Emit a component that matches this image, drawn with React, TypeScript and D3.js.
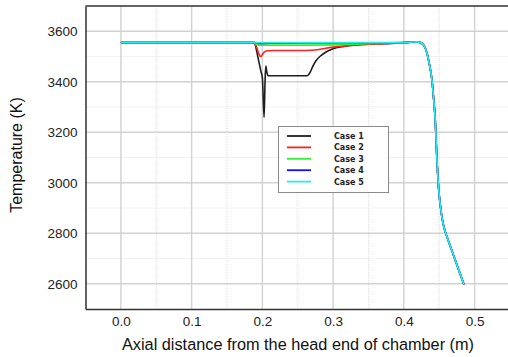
import React from "react";
import * as d3 from "d3";

// axis ticks
const xTicks = [0.0, 0.1, 0.2, 0.3, 0.4, 0.5];
const yTicks = [2600, 2800, 3000, 3200, 3400, 3600];
const xMinor = [-0.05, 0.05, 0.15, 0.25, 0.35, 0.45, 0.55];
const yMinor = [2700, 2900, 3100, 3300, 3500, 3700];

const caseNames = ["Case 1", "Case 2", "Case 3", "Case 4", "Case 5"];
const caseColors = ["#1e1e1e", "#ff2020", "#33ee33", "#1010ff", "#22eeee"];

// shared drop near the nozzle end (all cases collapse on it)
const tailX = [0.41, 0.418, 0.423, 0.428, 0.4325, 0.4355, 0.438, 0.44, 0.442, 0.444, 0.4472, 0.4496, 0.452, 0.4543, 0.4575, 0.4613, 0.47, 0.478, 0.4849];
const tailT = [3557, 3558, 3556, 3545, 3515, 3477, 3440, 3398, 3335, 3265, 3067, 2961, 2900, 2855, 2815, 2783, 2714, 2651, 2597];

// head part per case
const case1X = [0, 0.189, 0.192, 0.195, 0.198, 0.2, 0.2024, 0.2038, 0.2048, 0.2062, 0.208, 0.23, 0.263, 0.268, 0.2706, 0.276, 0.2825, 0.29, 0.299, 0.315, 0.3366, 0.36, 0.383, 0.4];
const case1T = [3555, 3555, 3520, 3480, 3440, 3415, 3259, 3400, 3462, 3440, 3424, 3424, 3424, 3440, 3457, 3484, 3503, 3518, 3530, 3540, 3547, 3550, 3552, 3555];
const case2X = [0, 0.188, 0.192, 0.1955, 0.1977, 0.201, 0.2048, 0.215, 0.25, 0.27, 0.28, 0.29, 0.3, 0.32, 0.34, 0.37, 0.4];
const case2T = [3555, 3555, 3535, 3507, 3499, 3512, 3522, 3524, 3524, 3525, 3528, 3533, 3537, 3543, 3547, 3551, 3555];
const case3X = [0, 0.188, 0.193, 0.198, 0.25, 0.3, 0.34, 0.38, 0.4];
const case3T = [3555, 3555, 3546, 3545, 3545, 3546, 3550, 3554, 3555];
const case4X = [0, 0.19, 0.195, 0.2, 0.22, 0.3, 0.4];
const case4T = [3555, 3555, 3552, 3552, 3553, 3554, 3555];
const case5X = [0, 0.4];
const case5T = [3555, 3555];

const headsX = [case1X, case2X, case3X, case4X, case5X];
const headsT = [case1T, case2T, case3T, case4T, case5T];

export default function App() {
    const ref = React.useRef<SVGSVGElement>(null);

    React.useEffect(() => {
        drawChart();
    }, []);

    function drawChart() {
        const svg = d3.select(ref.current);
        svg.selectAll("*").remove();

        const font = "'Liberation Sans', Arial, sans-serif";
        const x = d3.scaleLinear().domain([-0.05, 0.55]).range([85.5, 510]);
        const y = d3.scaleLinear().domain([2500, 3700]).range([309, 6]);

        const grid = svg.append("g");
        grid.selectAll("line.xmin")
            .data(xMinor)
            .enter()
            .append("line")
            .attr("x1", (d) => x(d))
            .attr("x2", (d) => x(d))
            .attr("y1", y(3700))
            .attr("y2", y(2500))
            .attr("stroke", "#e2e2e2")
            .attr("stroke-dasharray", "1,1");
        grid.selectAll("line.ymin")
            .data(yMinor)
            .enter()
            .append("line")
            .attr("x1", x(-0.05))
            .attr("x2", x(0.55))
            .attr("y1", (d) => y(d))
            .attr("y2", (d) => y(d))
            .attr("stroke", "#e2e2e2")
            .attr("stroke-dasharray", "1,1");
        grid.selectAll("line.xmaj")
            .data(xTicks)
            .enter()
            .append("line")
            .attr("x1", (d) => x(d))
            .attr("x2", (d) => x(d))
            .attr("y1", y(3700))
            .attr("y2", y(2500))
            .attr("stroke", "#d2d2d2")
            .attr("stroke-width", 1.4);
        grid.selectAll("line.ymaj")
            .data(yTicks)
            .enter()
            .append("line")
            .attr("x1", x(-0.05))
            .attr("x2", x(0.55))
            .attr("y1", (d) => y(d))
            .attr("y2", (d) => y(d))
            .attr("stroke", "#d2d2d2")
            .attr("stroke-width", 1.4);

        // axes
        const yAxis = d3.axisLeft(y).tickValues(yTicks).tickSize(0).tickPadding(8).tickFormat(d3.format("d"));
        const xAxis = d3.axisBottom(x).tickValues(xTicks).tickSize(0).tickPadding(7).tickFormat(d3.format(".1f"));
        const ya = svg.append("g").attr("transform", `translate(${x(-0.05)},0)`).call(yAxis);
        const xa = svg.append("g").attr("transform", `translate(0,${y(2500)})`).call(xAxis);
        [ya, xa].forEach((g) => {
            g.select(".domain").attr("stroke", "#333").attr("stroke-width", 1.5);
            g.selectAll("text").attr("font-family", font).attr("font-size", 13.5).attr("fill", "#222");
        });
        svg.append("line")
            .attr("x1", x(-0.05))
            .attr("x2", x(0.55))
            .attr("y1", y(3700))
            .attr("y2", y(3700))
            .attr("stroke", "#333")
            .attr("stroke-width", 1.5);

        // series
        const line = d3
            .line<[number, number]>()
            .x((d) => x(d[0]))
            .y((d) => y(d[1]))
            .curve(d3.curveMonotoneX);
        headsX.forEach((hx, i) => {
            const pts: [number, number][] = hx
                .map((v, j) => [v, headsT[i][j]] as [number, number])
                .concat(tailX.map((v, j) => [v, tailT[j]] as [number, number]));
            svg.append("path")
                .attr("d", line(pts))
                .attr("fill", "none")
                .attr("stroke", caseColors[i])
                .attr("stroke-width", 1.6);
        });

        // legend
        const lg = svg.append("g");
        lg.append("rect")
            .attr("x", 278.5)
            .attr("y", 126.5)
            .attr("width", 110)
            .attr("height", 66)
            .attr("fill", "white")
            .attr("stroke", "#8a8a8a");
        caseNames.forEach((name, i) => {
            const ly = 136 + i * 11.4;
            lg.append("line")
                .attr("x1", 287)
                .attr("x2", 311)
                .attr("y1", ly)
                .attr("y2", ly)
                .attr("stroke", caseColors[i])
                .attr("stroke-width", 1.8);
            lg.append("text")
                .attr("x", 334)
                .attr("y", ly + 3)
                .attr("font-family", "'DejaVu Sans', Tahoma, sans-serif")
                .attr("font-weight", "bold")
                .attr("font-size", 8)
                .attr("fill", "#222")
                .text(name);
        });

        // titles
        svg.append("text")
            .attr("x", 298)
            .attr("y", 350)
            .attr("text-anchor", "middle")
            .attr("font-family", font)
            .attr("font-size", 16.3)
            .attr("fill", "#111")
            .text("Axial distance from the head end of chamber (m)");
        svg.append("text")
            .attr("transform", "translate(22,155) rotate(-90)")
            .attr("text-anchor", "middle")
            .attr("font-family", font)
            .attr("font-size", 16)
            .attr("fill", "#111")
            .text("Temperature (K)");
    }

    return (
        <svg
            ref={ref}
            width={508}
            height={357}
            style={{ position: "absolute", left: 0, top: 0, background: "white" }}
        />
    );
}
